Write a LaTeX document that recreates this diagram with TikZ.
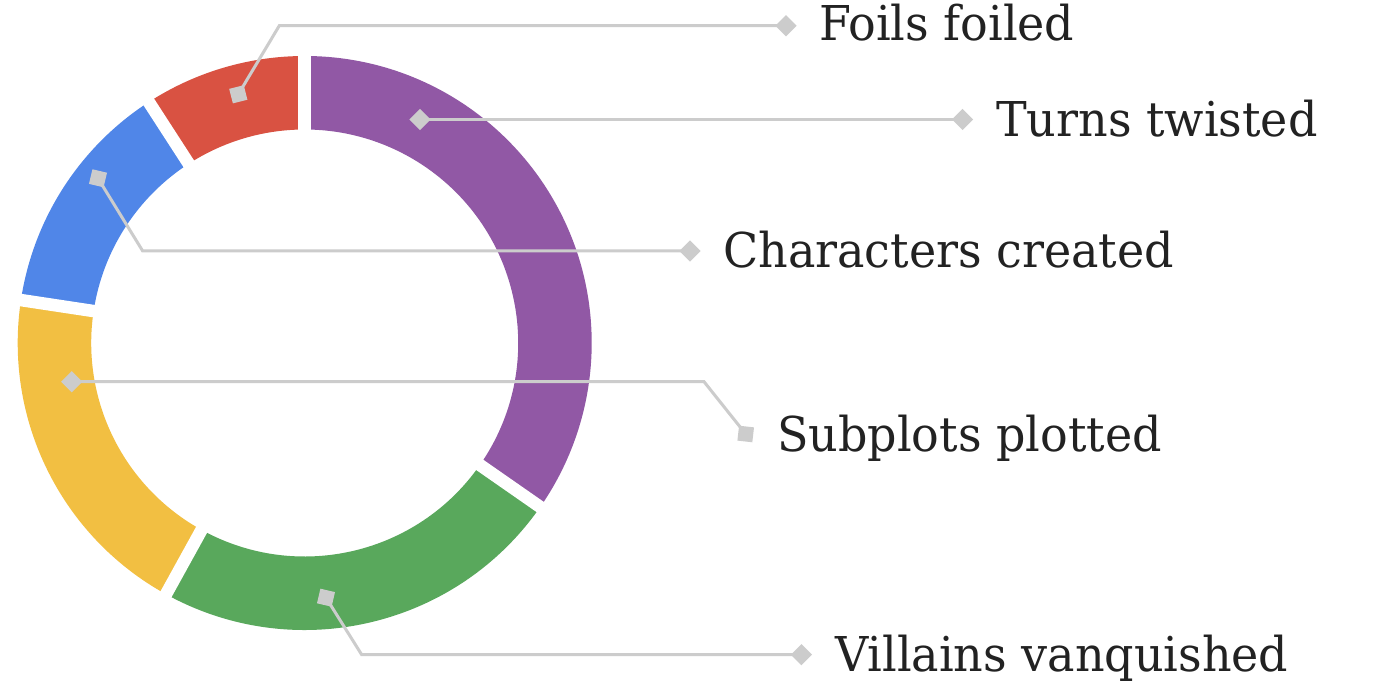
\documentclass[tikz,border=0pt]{standalone}
\usepackage{fontspec}
\setmainfont{DejaVu Serif Condensed}[FakeStretch=1.065]
\definecolor{cpurple}{HTML}{9158A5}
\definecolor{cgreen}{HTML}{59A85C}
\definecolor{cyellow}{HTML}{F2BF42}
\definecolor{cblue}{HTML}{5086E8}
\definecolor{cred}{HTML}{D95242}
\definecolor{cgray}{HTML}{CCCCCC}
\definecolor{ctext}{HTML}{222222}
\tikzset{
  marker/.style={fill=cgray, draw=none, rectangle, inner sep=0pt, minimum size=15pt},
  leader/.style={draw=cgray, line width=3pt, line join=miter},
  gapline/.style={draw=white, line width=12.5pt},
  lbl/.style={anchor=base west, inner sep=0pt, text=ctext, font=\fontsize{48}{56}\selectfont},
}
\newcommand{\ringsector}[3]{%
  \fill[#1] ([shift={(#2:287)}]C) arc[start angle=#2, end angle=#3, radius=287]
    -- ([shift={(#3:213.5)}]C) arc[start angle=#3, end angle=#2, radius=213.5] -- cycle;}
\begin{document}
\begin{tikzpicture}[x=1pt,y=-1pt]
\fill[white] (0,0) rectangle (1390,684);
\useasboundingbox (0,0) rectangle (1390,684);
\coordinate (C) at (304.7,343);
% sectors (arc angles = minus visual angles)
\ringsector{cpurple}{-90}{34.85}
\ringsector{cgreen}{34.85}{118.9}
\ringsector{cyellow}{118.9}{188.6}
\ringsector{cblue}{188.6}{237.1}
\ringsector{cred}{237.1}{270}
\foreach \a in {-90,34.85,118.9,188.6,237.1}{
  \draw[gapline] ([shift={(\a:195)}]C) -- ([shift={(\a:300)}]C);
}
% labels
\node[lbl] (lf) at (819,40.7) {Foils foiled};
\node[lbl] (lt) at (996,136.7) {Turns twisted};
\node[lbl] (lc) at (723,268) {Characters created};
\node[lbl] (ls) at (777,451.7) {Subplots plotted};
\node[lbl] (lv) at (835,671.7) {Villains vanquished};
% elbows
\coordinate (ef) at (279.3,25.7);
\coordinate (ec) at (142.7,251);
\coordinate (es) at (704,381.7);
\coordinate (ev) at (361.7,654.7);
% leaders
\draw[leader] (238.3,94.3) coordinate (sf) -- (ef) -- (786,25.7) coordinate (df);
\draw[leader] (420,119.5) coordinate (st) -- (962.6,119.5) coordinate (dt);
\draw[leader] (98,178.3) coordinate (sc) -- (ec) -- (690,251) coordinate (dc);
\draw[leader] (71.7,381.7) coordinate (ss) -- (es) -- (745.7,434) coordinate (ds);
\draw[leader] (326,597.7) coordinate (sv) -- (ev) -- (801.4,654.7) coordinate (dv);
% markers
\node[marker, rotate=104.1] (msf) at (sf) {};
\node[marker, rotate=45] (mdf) at (df) {};
\node[marker, rotate=45] (mst) at (st) {};
\node[marker, rotate=45] (mdt) at (dt) {};
\node[marker, rotate=-13.3] (msc) at (sc) {};
\node[marker, rotate=45] (mdc) at (dc) {};
\node[marker, rotate=45] (mss) at (ss) {};
\node[marker, rotate=-6.4] (mds) at (ds) {};
\node[marker, rotate=-13.1] (msv) at (sv) {};
\node[marker, rotate=45] (mdv) at (dv) {};
\end{tikzpicture}
\end{document}
